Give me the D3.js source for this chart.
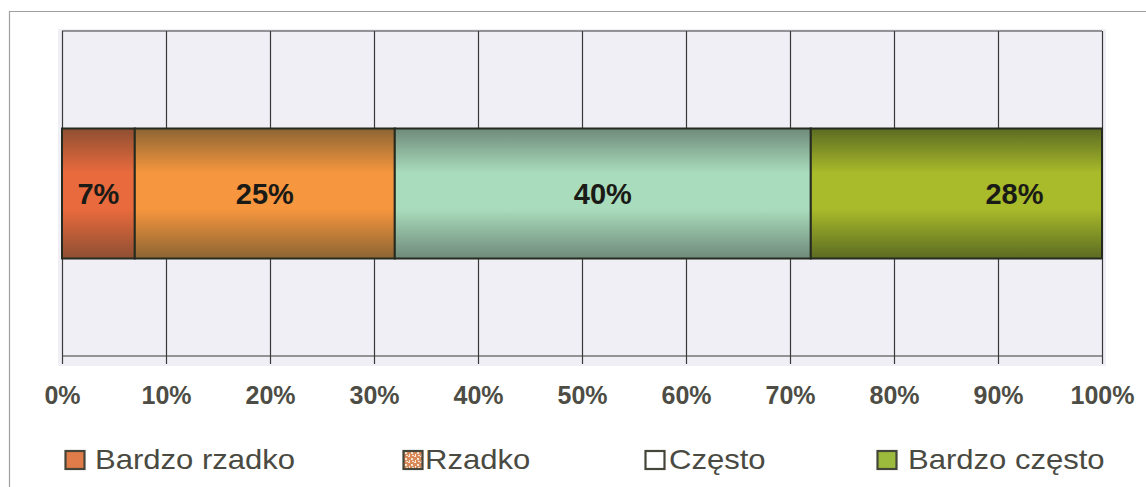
<!DOCTYPE html>
<html>
<head>
<meta charset="utf-8">
<script src="https://cdn.jsdelivr.net/npm/d3@7"></script>
<style>
  html, body { margin: 0; padding: 0; background: #ffffff; }
  svg { display: block; }
</style>
</head>
<body>
<svg id="chart" width="1146" height="487"></svg>
<script>
// Survey answer shares, one stacked bar
const categories = ["Bardzo rzadko", "Rzadko", "Często", "Bardzo często"];
const shares = [0.07, 0.25, 0.40, 0.28];
const valueLabels = ["7%", "25%", "40%", "28%"];
const tickValues = [0, 0.1, 0.2, 0.3, 0.4, 0.5, 0.6, 0.7, 0.8, 0.9, 1.0];
const tickLabels = ["0%", "10%", "20%", "30%", "40%", "50%", "60%", "70%", "80%", "90%", "100%"];

// gradient stops for each segment: edge, middle
const segmentShades = [
  ["#8e4f33", "#e96a3d"],
  ["#8c6533", "#f6963e"],
  ["#6f8a7a", "#a9dcbc"],
  ["#5b6b22", "#a9ba2a"]
];
const legendFills = ["#e07b4a", "url(#speckle)", "#ffffff", "#9cba3c"];

const svg = d3.select("#chart");
const defs = svg.append("defs");

segmentShades.forEach((c, i) => {
  const g = defs.append("linearGradient")
    .attr("id", "seg" + i).attr("x1", 0).attr("y1", 0).attr("x2", 0).attr("y2", 1);
  g.append("stop").attr("offset", "0%").attr("stop-color", c[0]);
  g.append("stop").attr("offset", "34%").attr("stop-color", c[1]);
  g.append("stop").attr("offset", "62%").attr("stop-color", c[1]);
  g.append("stop").attr("offset", "100%").attr("stop-color", c[0]);
});

// speckled orange texture for the "Rzadko" legend key
const pat = defs.append("pattern").attr("id", "speckle")
  .attr("width", 6).attr("height", 6).attr("patternUnits", "userSpaceOnUse");
pat.append("rect").attr("width", 6).attr("height", 6).attr("fill", "#d98a58");
[[0, 0, 2, 1], [3, 2, 2, 2], [1, 4, 1, 2], [4, 5, 2, 1]].forEach(r =>
  pat.append("rect").attr("x", r[0]).attr("y", r[1]).attr("width", r[2]).attr("height", r[3]).attr("fill", "#f6e6d8"));

// outer frame
svg.append("line").attr("x1", 9).attr("x2", 1146).attr("y1", 11.5).attr("y2", 11.5)
  .attr("stroke", "#a0a0a0").attr("stroke-width", 1.2);
svg.append("line").attr("x1", 9.5).attr("x2", 9.5).attr("y1", 11).attr("y2", 487)
  .attr("stroke", "#a0a0a0").attr("stroke-width", 1.2);

const x = d3.scaleLinear().domain([0, 1]).range([62, 1102]);
const y = d3.scaleBand().domain(["all"]).range([31, 356]).paddingInner(0).paddingOuter(0.75);
const plotTop = 31, plotBottom = 356, tickEnd = 364;

// plot background
svg.append("rect").attr("x", 58).attr("y", 29).attr("width", 1048).attr("height", 337)
  .attr("fill", "#efeff5");

// vertical gridlines (drawn by an axis with long ticks)
const grid = svg.append("g").attr("transform", `translate(0,${tickEnd})`)
  .call(d3.axisBottom(x).tickValues(tickValues).tickSize(-(tickEnd - plotTop)).tickFormat(""));
grid.select(".domain").remove();
grid.selectAll(".tick line").attr("stroke", "#3a3a3a").attr("stroke-width", 1.2);

// horizontal frame lines of the plot
[plotTop, plotBottom].forEach(v => svg.append("line")
  .attr("x1", x(0)).attr("x2", x(1)).attr("y1", v).attr("y2", v)
  .attr("stroke", "#3a3a3a").attr("stroke-width", 1.2));

// stacked segments
const starts = shares.map((d, i) => d3.sum(shares.slice(0, i)));
const bars = svg.append("g");
bars.selectAll("rect").data(shares).join("rect")
  .attr("x", (d, i) => x(starts[i]))
  .attr("y", y("all"))
  .attr("width", (d, i) => x(starts[i] + d) - x(starts[i]))
  .attr("height", y.bandwidth())
  .attr("fill", (d, i) => `url(#seg${i})`)
  .attr("stroke", "#262b20").attr("stroke-width", 2);

// value labels (the last one sits toward the right end of its segment)
const labelShift = [0, 0, 0, 58];
bars.selectAll("text").data(shares).join("text")
  .attr("x", (d, i) => x(starts[i] + d / 2) + labelShift[i])
  .attr("y", y("all") + y.bandwidth() / 2)
  .attr("dy", "0.36em")
  .attr("text-anchor", "middle")
  .attr("font-family", "Liberation Sans, Arial, sans-serif")
  .attr("font-weight", "bold")
  .attr("font-size", 29)
  .attr("fill", "#1a1a16")
  .text((d, i) => valueLabels[i]);

// x axis labels
const ax = svg.append("g").attr("transform", `translate(0,${tickEnd})`)
  .call(d3.axisBottom(x).tickValues(tickValues).tickSize(0).tickPadding(0)
    .tickFormat((d, i) => tickLabels[i]));
ax.select(".domain").remove();
ax.selectAll("text")
  .attr("y", 39.5).attr("dy", 0)
  .attr("font-family", "Liberation Sans, Arial, sans-serif")
  .attr("font-weight", "bold")
  .attr("font-size", 25)
  .attr("fill", "#4d4d45");

// legend: key box and label per entry
const keyX = [65, 403, 645, 877];
const labelX = [95, 425, 669, 908];
const legend = svg.append("g");
categories.forEach((name, i) => {
  legend.append("rect").attr("x", keyX[i] + 0.5).attr("y", 451).attr("width", 19).attr("height", 18)
    .attr("fill", legendFills[i]).attr("stroke", "#45453a").attr("stroke-width", 2.2);
  legend.append("text")
    .attr("transform", `translate(${labelX[i]},469) scale(1.15,1)`)
    .attr("font-family", "Liberation Sans, Arial, sans-serif")
    .attr("font-size", 27)
    .attr("fill", "#4a4a42")
    .text(name);
});
</script>
</body>
</html>
